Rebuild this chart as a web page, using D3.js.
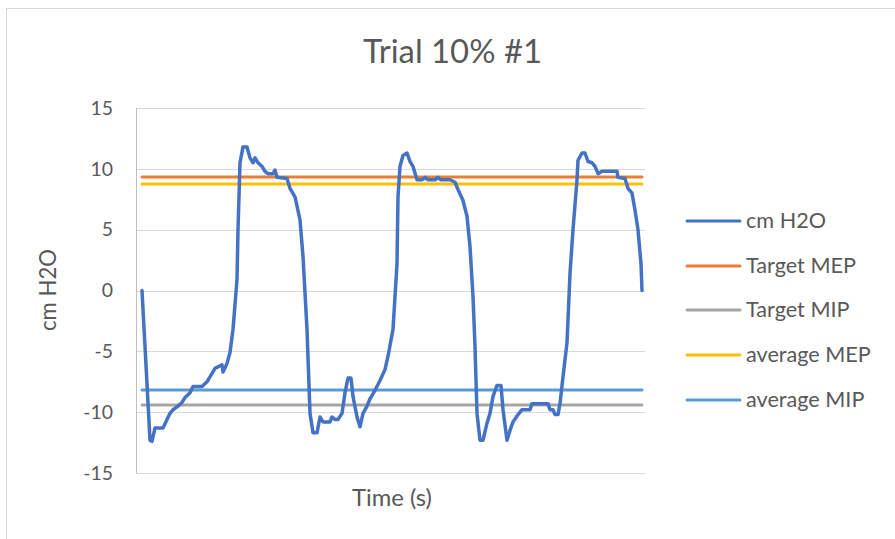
<!DOCTYPE html>
<html>
<head>
<meta charset="utf-8">
<script src="https://cdn.jsdelivr.net/npm/d3@7"></script>
<style>
  html, body { margin: 0; padding: 0; background: #fff; }
  svg { display: block; }
  text { font-family: Lato, "Open Sans", sans-serif; fill: #595959; }
</style>
</head>
<body>
<svg id="chart" width="895" height="539"></svg>
<script>
// ---- data ----
const title = "Trial 10% #1";
const xTitle = "Time (s)";
const yTitle = "cm H2O";
const yTicks = [-15, -10, -5, 0, 5, 10, 15];
const seriesNames = ["cm H2O", "Target MEP", "Target MIP", "average MEP", "average MIP"];
const seriesColors = ["#4472C4", "#ED7D31", "#A5A5A5", "#FFC000", "#5B9BD5"];
// [sample index, cm H2O]
const cmH2O = [
  [0, 0], [8, -12.3], [10, -12.4], [13, -11.3], [21, -11.3], [25, -10.6], [28, -10.1], [31, -9.8],
  [36, -9.5], [40, -9.2], [43, -8.8], [48, -8.4], [51, -7.9], [60, -7.9], [65, -7.5], [68, -7.1],
  [73, -6.4], [80, -6.1], [81, -6.7], [85, -6.0], [88, -5.1], [91, -3.2], [95, 0.9], [96, 5.0],
  [98, 10.5], [101, 11.8], [105, 11.8], [108, 10.9], [111, 10.5], [113, 10.9], [116, 10.5], [120, 10.2],
  [123, 9.8], [126, 9.6], [131, 9.6], [133, 9.9], [135, 9.3], [145, 9.2], [148, 8.4], [153, 7.7],
  [158, 5.8], [161, 2.8], [165, -3.2], [168, -10.1], [171, -11.7], [175, -11.7], [178, -10.4], [181, -10.8],
  [188, -10.8], [190, -10.4], [193, -10.6], [196, -10.6], [200, -10.1], [203, -8.4], [206, -7.2], [209, -7.2],
  [211, -8.7], [215, -10.4], [218, -11.2], [221, -10.1], [225, -9.5], [228, -8.9], [233, -8.2], [238, -7.4],
  [243, -6.5], [246, -5.4], [251, -3.2], [255, 2.2], [256, 7.7], [258, 10.2], [261, 11.1], [265, 11.3],
  [268, 10.6], [271, 10.2], [275, 9.1], [280, 9.1], [283, 9.3], [286, 9.1], [293, 9.1], [296, 9.3],
  [299, 9.1], [308, 9.1], [313, 8.9], [316, 8.3], [321, 7.4], [325, 6.1], [328, 3.6], [331, -0.5],
  [333, -4.6], [335, -10.1], [338, -12.3], [341, -12.3], [345, -10.9], [348, -10.1], [351, -8.7], [355, -7.8],
  [359, -7.8], [361, -9.8], [365, -12.3], [368, -11.5], [371, -10.8], [376, -10.2], [380, -9.8], [388, -9.8],
  [390, -9.3], [406, -9.3], [408, -9.8], [411, -9.8], [413, -10.2], [416, -10.2], [418, -9.3], [421, -7.1],
  [425, -4.3], [428, 1.4], [431, 5.0], [435, 9.1], [436, 10.7], [440, 11.3], [443, 11.3], [446, 10.6],
  [450, 10.5], [453, 10.2], [456, 9.6], [460, 9.8], [475, 9.8], [476, 9.3], [483, 9.2], [486, 8.4],
  [490, 8.0], [493, 6.6], [496, 5.0], [499, 2.2], [500, 0.0]
];
const targetMEP = 9.33;
const targetMIP = -9.41;
const averageMEP = 8.75;
const averageMIP = -8.18;

// ---- layout ----
const svg = d3.select("#chart");
const plot = { left: 136, right: 645, top: 108, bottom: 473 };
const font = "Lato, 'Open Sans', sans-serif";

// scale a text's font size so its width matches a target width
function fitWidth(sel, target, base) {
  sel.style("font-size", base + "px");
  const w = sel.node().getComputedTextLength();
  const size = base * target / w;
  sel.style("font-size", size.toFixed(2) + "px");
  return size;
}

// chart border
svg.append("rect").attr("x", 6.5).attr("y", 8.5).attr("width", 900).attr("height", 540)
  .attr("fill", "none").attr("stroke", "#D9D9D9").attr("stroke-width", 1);

const tMax = d3.max(cmH2O, d => d[0]);
const x = d3.scaleLinear().domain([0, tMax]).range([142, 642]);
const y = d3.scaleLinear().domain([-15, 15]).range([plot.bottom, plot.top]);

// gridlines
svg.append("g").selectAll("line").data(yTicks.filter(d => d > -15)).join("line")
  .attr("x1", plot.left).attr("x2", plot.right)
  .attr("y1", d => Math.round(y(d)) + 0.5).attr("y2", d => Math.round(y(d)) + 0.5)
  .attr("stroke", "#D9D9D9").attr("stroke-width", 1);

// axes lines
svg.append("line").attr("x1", plot.left + 0.5).attr("x2", plot.left + 0.5)
  .attr("y1", plot.top).attr("y2", plot.bottom).attr("stroke", "#BFBFBF");
svg.append("line").attr("x1", plot.left).attr("x2", plot.right)
  .attr("y1", plot.bottom + 0.5).attr("y2", plot.bottom + 0.5).attr("stroke", "#D9D9D9");

// y axis labels
const yAxis = d3.axisLeft(y).tickValues(yTicks).tickSize(0).tickPadding(23).tickFormat(d => String(d));
const gy = svg.append("g").attr("transform", `translate(${plot.left},0)`).call(yAxis);
gy.select(".domain").remove();
gy.selectAll("text").style("font-family", font).attr("fill", "#595959");
const t15 = gy.selectAll("text").filter(d => d === 15);
const tickSize = fitWidth(t15, 22.5, 18);
gy.selectAll("text").style("font-size", tickSize.toFixed(2) + "px");

// reference lines
const refs = [
  { v: targetMEP, c: seriesColors[1] },
  { v: averageMEP, c: seriesColors[3] },
  { v: averageMIP, c: seriesColors[4] },
  { v: targetMIP, c: seriesColors[2] }
];
svg.append("g").selectAll("line").data(refs).join("line")
  .attr("x1", x(0)).attr("x2", x(tMax))
  .attr("y1", d => y(d.v)).attr("y2", d => y(d.v))
  .attr("stroke", d => d.c).attr("stroke-width", 3).attr("stroke-linecap", "round");

// main series
const line = d3.line().x(d => x(d[0])).y(d => y(d[1]));
svg.append("path").datum(cmH2O).attr("d", line)
  .attr("fill", "none").attr("stroke", seriesColors[0]).attr("stroke-width", 3.5)
  .attr("stroke-linejoin", "round").attr("stroke-linecap", "round");

// title
const tt = svg.append("text").attr("x", 452.5).attr("y", 63).attr("text-anchor", "middle").text(title);
fitWidth(tt, 179, 30);

// axis titles
const xt = svg.append("text").attr("x", 392).attr("y", 506).attr("text-anchor", "middle").text(xTitle);
fitWidth(xt, 80, 22);
const yt = svg.append("text").attr("transform", "translate(56,290) rotate(-90)").attr("text-anchor", "middle").text(yTitle);
fitWidth(yt, 82, 22);

// legend
const legY = [221, 266, 310, 355, 400];
const leg = svg.append("g").selectAll("g").data(seriesNames).join("g")
  .attr("transform", (d, i) => `translate(687,${legY[i]})`);
leg.append("line").attr("x1", 0).attr("x2", 53).attr("y1", 0).attr("y2", 0)
  .attr("stroke", (d, i) => seriesColors[i]).attr("stroke-width", 3).attr("stroke-linecap", "round");
const legTexts = leg.append("text").attr("x", 59).attr("y", 7).text(d => d);
const legSize = fitWidth(legTexts.filter(d => d === "Target MEP"), 110, 20);
legTexts.style("font-size", legSize.toFixed(2) + "px");
</script>
</body>
</html>
